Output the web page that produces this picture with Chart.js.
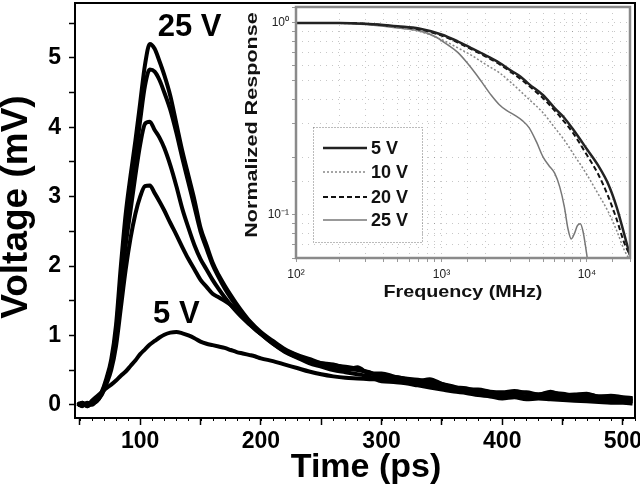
<!DOCTYPE html>
<html>
<head>
<meta charset="utf-8">
<script src="https://cdn.jsdelivr.net/npm/chart.js@4/dist/chart.umd.min.js"></script>
<style>
  html, body { margin: 0; padding: 0; background: #fff; }
  #wrap { position: relative; width: 640px; height: 488px; }
  #main { position: absolute; left: 0; top: 0; }
  #inset { position: absolute; left: 232px; top: 0; }
</style>
</head>
<body>
<div id="wrap">
  <canvas id="main" width="640" height="488"></canvas>
  <canvas id="inset" width="408" height="305"></canvas>
</div>
<script>
// ---------- main chart data (time in ps, voltage in mV) ----------
const time = [48,52,56,60,64,68,72,76,80,84,88,92,96,100,104,108,112,116,120,
  125,130,135,140,145,150,155,160,165,170,175,180,185,190,195,200,
  210,220,230,240,250,260,270,280,290,
  300,310,320,330,340,350,360,370,380,390,400,410,420,430,440,450,460,470,480,490,500,508];

const pulseA = [0.02,-0.02,0.03,0.0,0.06,0.18,0.38,0.65,1.15,2.0,2.75,3.3,3.8,4.35,4.9,5.2,5.13,4.95,4.75,
  4.45,4.05,3.65,3.3,2.95,2.55,2.3,2.05,1.87,1.72,1.58,1.45,1.33,1.22,1.13,1.05,
  0.92,0.8,0.72,0.66,0.6,0.57,0.55,0.52,0.46,
  0.42,0.40,0.38,0.36,0.33,0.30,0.26,0.22,0.22,0.19,0.18,0.20,0.17,0.15,0.17,0.16,0.13,0.15,0.12,0.12,0.10,0.08];
const pulseB = [0.0,0.03,-0.02,0.02,0.06,0.17,0.35,0.6,1.05,1.85,2.55,3.05,3.55,4.1,4.6,4.83,4.8,4.68,4.5,
  4.25,3.92,3.55,3.2,2.85,2.5,2.25,2.02,1.84,1.68,1.54,1.42,1.31,1.2,1.11,1.03,
  0.9,0.79,0.71,0.64,0.6,0.58,0.53,0.5,0.47,
  0.38,0.36,0.33,0.30,0.31,0.27,0.22,0.18,0.16,0.16,0.12,0.14,0.12,0.10,0.13,0.10,0.09,0.11,0.08,0.07,0.06,0.05];
const pulseC = [0.02,-0.01,0.02,0.03,0.05,0.15,0.33,0.55,0.95,1.65,2.3,2.8,3.3,3.75,4.05,4.08,3.96,3.85,3.7,
  3.45,3.15,2.82,2.55,2.3,2.1,1.95,1.8,1.67,1.55,1.44,1.34,1.25,1.17,1.1,1.02,
  0.88,0.77,0.69,0.62,0.56,0.52,0.5,0.54,0.45,
  0.45,0.41,0.37,0.34,0.37,0.30,0.25,0.24,0.19,0.17,0.15,0.17,0.18,0.15,0.19,0.14,0.15,0.16,0.12,0.13,0.11,0.10];
const pulseD = [0.0,0.02,0.0,0.04,0.06,0.14,0.3,0.5,0.85,1.4,1.95,2.4,2.75,3.0,3.15,3.16,3.05,2.93,2.8,
  2.62,2.45,2.27,2.1,1.95,1.8,1.7,1.6,1.55,1.5,1.44,1.36,1.26,1.17,1.09,1.02,
  0.88,0.76,0.68,0.6,0.55,0.5,0.47,0.44,0.41,
  0.34,0.33,0.31,0.28,0.25,0.22,0.19,0.17,0.14,0.12,0.09,0.11,0.08,0.09,0.08,0.07,0.06,0.05,0.04,0.03,0.03,0.02];
const pulseE = [0.0,0.03,-0.02,0.06,0.12,0.18,0.24,0.29,0.35,0.42,0.48,0.56,0.64,0.73,0.8,0.87,0.92,0.97,1.01,
  1.04,1.05,1.03,1.0,0.96,0.91,0.88,0.86,0.84,0.82,0.79,0.76,0.74,0.72,0.7,0.67,
  0.63,0.58,0.53,0.48,0.44,0.41,0.39,0.38,0.37,
  0.36,0.34,0.32,0.30,0.28,0.25,0.22,0.19,0.17,0.15,0.14,0.13,0.12,0.12,0.11,0.10,0.10,0.09,0.08,0.08,0.07,0.06];

const xTickValues = [50,100,150,200,250,300,350,400,450,500];
const yTickValues = [0,0.5,1,1.5,2,2.5,3,3.5,4,4.5,5,5.5];
const annotTexts = ['25 V', '5 V'];
const annotX = [141, 130];
const annotY = [5.44, 1.30];

// ---------- inset data (frequency in MHz, normalized response) ----------
const freq = [100,150,200,300,400,500,700,1000,1300,1600,2000,2500,3000,3500,4000,5000,6000,7000,8000,10000,12000,14000,16000,18000,19700];
const resp5V  = [1,1,1,0.99,0.975,0.96,0.935,0.87,0.8,0.74,0.68,0.62,0.565,0.525,0.48,0.42,0.36,0.32,0.28,0.22,0.18,0.145,0.11,0.08,0.062];
const resp10V = [1,1,0.995,0.985,0.965,0.945,0.905,0.82,0.74,0.68,0.61,0.55,0.49,0.44,0.4,0.34,0.285,0.245,0.21,0.162,0.128,0.104,0.083,0.066,0.058];
const resp20V = [1,1,1,0.99,0.972,0.955,0.925,0.86,0.79,0.73,0.67,0.61,0.555,0.51,0.47,0.405,0.35,0.305,0.268,0.205,0.162,0.125,0.095,0.072,0.062];
const freq25V = [100,150,200,300,400,500,700,900,1100,1300,1500,1700,1900,2200,2500,2800,3200,3600,4000,4500,5000,5500,6000,6500,7000,7400,7800,8200,8600,9000,9400,9800,10200];
const resp25V = [1,1,0.995,0.98,0.96,0.94,0.91,0.85,0.77,0.7,0.62,0.55,0.49,0.42,0.375,0.35,0.33,0.31,0.285,0.24,0.2,0.18,0.165,0.14,0.11,0.085,0.075,0.08,0.088,0.09,0.082,0.068,0.055];
const insetLabels = ['5 V', '10 V', '20 V', '25 V'];

const FONT = '"Liberation Sans", Arial, sans-serif';

// scales: fixed size and no overflow padding, so the plot area is exact
const fixY = w => s => { s.width = w; s.paddingTop = 0; s.paddingBottom = 0; };
const fixX = h => s => { s.height = h; s.paddingLeft = 0; s.paddingRight = 0; };

// ---------- main chart ----------
const mainSeries = [pulseA, pulseB, pulseC, pulseD, pulseE];
const mainDecor = {
  id: 'mainDecor',
  afterDraw(chart) {
    const { ctx, chartArea: a, scales: { x, y } } = chart;
    ctx.save();
    ctx.strokeStyle = '#000';
    ctx.lineWidth = 2;
    ctx.beginPath();
    ctx.moveTo(a.left, a.top); ctx.lineTo(a.right, a.top); ctx.lineTo(a.right, a.bottom);
    ctx.stroke();
    // dense minor ticks on the time axis
    ctx.lineWidth = 1;
    ctx.beginPath();
    for (let v = 50; v <= 510; v += 10) {
      const px = Math.round(x.getPixelForValue(v)) + 0.5;
      ctx.moveTo(px, a.bottom); ctx.lineTo(px, a.bottom + 3);
    }
    ctx.stroke();
    // annotations
    ctx.fillStyle = '#000';
    ctx.font = 'bold 31px ' + FONT;
    ctx.textAlign = 'center';
    ctx.textBaseline = 'middle';
    annotTexts.forEach((t, i) => ctx.fillText(t, x.getPixelForValue(annotX[i]), y.getPixelForValue(annotY[i])));
    // axis titles
    ctx.font = 'bold 34px ' + FONT;
    ctx.fillText('Time (ps)', 366, 468);
    ctx.font = 'bold 37px ' + FONT;
    ctx.translate(17, 207);
    ctx.rotate(-Math.PI / 2);
    ctx.fillText('Voltage (mV)', 0, 0);
    ctx.restore();
  }
};

new Chart(document.getElementById('main'), {
  type: 'line',
  data: {
    datasets: mainSeries.map(s => ({
      data: s.map((v, i) => ({ x: time[i], y: v })),
      borderColor: '#000',
      borderWidth: 4,
      pointRadius: 0,
      cubicInterpolationMode: 'monotone',
      fill: false
    }))
  },
  options: {
    responsive: false,
    animation: false,
    layout: { autoPadding: false, padding: { top: 3, right: 5, left: 0, bottom: 0 } },
    plugins: { legend: { display: false }, tooltip: { enabled: false } },
    scales: {
      x: {
        type: 'linear', min: 46, max: 510,
        afterFit: fixX(70),
        afterBuildTicks(s) { s.ticks = xTickValues.map(v => ({ value: v })); },
        ticks: {
          callback: v => (v % 100 === 0 ? String(v) : ''),
          font: { family: FONT, weight: 'bold', size: 23 }, color: '#000',
          padding: 3, maxRotation: 0, autoSkip: false
        },
        grid: { drawOnChartArea: false, tickLength: 7, tickColor: '#000', tickWidth: 1.5 },
        border: { color: '#000', width: 2 }
      },
      y: {
        type: 'linear', min: -0.19, max: 5.79,
        afterFit: fixY(75),
        afterBuildTicks(s) { s.ticks = yTickValues.map(v => ({ value: v })); },
        ticks: {
          callback: v => (Number.isInteger(v) ? String(v) : ''),
          font: { family: FONT, weight: 'bold', size: 23 }, color: '#000',
          padding: 8, autoSkip: false
        },
        grid: { drawOnChartArea: false, tickLength: 6, tickColor: '#000', tickWidth: 1.5 },
        border: { color: '#000', width: 2 }
      }
    }
  },
  plugins: [mainDecor]
});

// ---------- inset chart ----------
const sup = n => String(n).split('').map(c => ({ '-': '⁻', '0': '⁰', '1': '¹', '2': '²', '3': '³', '4': '⁴' }[c])).join('');
const decadeLabel = v => {
  const l = Math.log10(v);
  return Math.abs(l - Math.round(l)) < 1e-6 ? '10' + sup(Math.round(l)) : '';
};

const insetStyles = [
  { color: '#222', width: 2.5, dash: [] },
  { color: '#888', width: 1.5, dash: [2, 2] },
  { color: '#111', width: 2, dash: [5, 3] },
  { color: '#777', width: 1.5, dash: [] }
];
const insetSets = [[freq, resp5V], [freq, resp10V], [freq, resp20V], [freq25V, resp25V]];

const insetDecor = {
  id: 'insetDecor',
  afterDraw(chart) {
    const { ctx, chartArea: a } = chart;
    ctx.save();
    ctx.strokeStyle = '#8a8a8a';
    ctx.lineWidth = 2.5;
    ctx.strokeRect(a.left, a.top, a.right - a.left, a.bottom - a.top);
    // legend
    const bx = 81, by = 127, bw = 109, bh = 115;
    ctx.lineWidth = 1;
    ctx.strokeStyle = '#777';
    ctx.setLineDash([1, 2]);
    ctx.fillStyle = '#fff';
    ctx.fillRect(bx, by, bw, bh);
    ctx.strokeRect(bx + 0.5, by + 0.5, bw, bh);
    const rows = [148, 172, 197, 220];
    chart.data.datasets.forEach((ds, i) => {
      ctx.setLineDash(ds.borderDash || []);
      ctx.strokeStyle = ds.borderColor;
      ctx.lineWidth = ds.borderWidth;
      ctx.beginPath();
      ctx.moveTo(91, rows[i]); ctx.lineTo(135, rows[i]);
      ctx.stroke();
      ctx.setLineDash([]);
      ctx.fillStyle = '#111';
      ctx.font = 'bold 18px ' + FONT;
      ctx.textAlign = 'left';
      ctx.textBaseline = 'middle';
      ctx.fillText(ds.label, 139, rows[i] + 1);
    });
    // axis titles (slightly wide lettering, as in the original)
    ctx.fillStyle = '#111';
    ctx.textAlign = 'center';
    ctx.textBaseline = 'middle';
    ctx.font = 'bold 17px ' + FONT;
    ctx.save();
    ctx.translate(231, 292);
    ctx.scale(1.16, 1);
    ctx.fillText('Frequency (MHz)', 0, 0);
    ctx.restore();
    ctx.translate(20, 125);
    ctx.rotate(-Math.PI / 2);
    ctx.scale(1.27, 1);
    ctx.fillText('Normalized Response', 0, 0);
    ctx.restore();
  }
};

new Chart(document.getElementById('inset'), {
  type: 'line',
  data: {
    datasets: insetSets.map((s, i) => ({
      label: insetLabels[i],
      data: s[0].map((f, j) => ({ x: f, y: s[1][j] })),
      borderColor: insetStyles[i].color,
      borderWidth: insetStyles[i].width,
      borderDash: insetStyles[i].dash,
      pointRadius: 0,
      cubicInterpolationMode: 'monotone',
      fill: false
    }))
  },
  options: {
    responsive: false,
    animation: false,
    layout: { autoPadding: false, padding: { top: 7, right: 10, left: 0, bottom: 0 } },
    plugins: { legend: { display: false }, tooltip: { enabled: false } },
    scales: {
      x: {
        type: 'logarithmic', min: 100, max: 19770,
        afterFit: fixX(47),
        ticks: {
          callback: v => decadeLabel(v),
          font: { family: FONT, size: 12 }, color: '#222',
          padding: 5, maxRotation: 0, autoSkip: false
        },
        grid: { color: 'rgba(0,0,0,0.22)', tickLength: 4, tickColor: '#999' },
        border: { display: false, dash: [1, 5] }
      },
      y: {
        type: 'logarithmic', min: 0.0597, max: 1.21,
        afterFit: fixY(64),
        ticks: {
          callback: v => decadeLabel(v),
          font: { family: FONT, size: 12 }, color: '#222',
          padding: 3, autoSkip: false
        },
        grid: { color: 'rgba(0,0,0,0.22)', tickLength: 4, tickColor: '#999' },
        border: { display: false, dash: [1, 5] }
      }
    }
  },
  plugins: [insetDecor]
});
</script>
</body>
</html>
